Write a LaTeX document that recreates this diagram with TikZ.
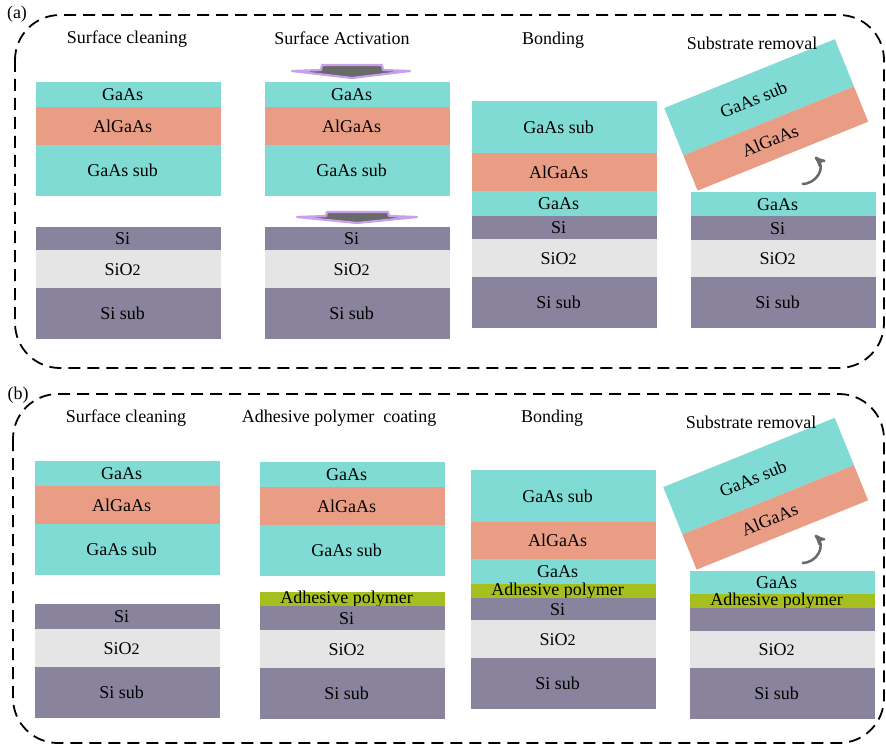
\documentclass[tikz,border=0pt]{standalone}
\usepackage{fontspec}
\setmainfont{Liberation Serif}
\usepackage{xcolor}
\usepackage{tikz}
\usetikzlibrary{
    arrows
}
\definecolor{gaasc}{RGB}{127,219,211}
\definecolor{algaasc}{RGB}{232,157,132}
\definecolor{sic}{RGB}{137,131,157}
\definecolor{sioc}{RGB}{229,229,229}
\definecolor{gluec}{RGB}{164,191,30}
\definecolor{arrowc}{RGB}{105,105,105}
\definecolor{glowc}{RGB}{200,160,235}
\newcommand{\siotwo}{SiO{\fontsize{16}{16}\selectfont 2}}

\begin{document}
\begin{tikzpicture}[x=1pt,y=-1pt,font=\fontsize{18}{20}\selectfont]
    \tikzstyle{layer}=[rectangle, inner sep=0pt, minimum width=185pt, anchor=north west]
    \tikzstyle{gaas}=[layer, fill=gaasc]
    \tikzstyle{algaas}=[layer, fill=algaasc]
    \tikzstyle{si}=[layer, fill=sic]
    \tikzstyle{sio}=[layer, fill=sioc]
    \tikzstyle{glue}=[layer, fill=gluec]
    \tikzstyle{every label}=[xshift=-6pt, inner sep=0pt, font=\fontsize{18}{20}\selectfont\rmfamily]
    \tikzstyle{frame}=[draw=black, line width=1.8pt, dash pattern=on 12pt off 7pt, rounded corners=45pt]
    \tikzstyle{press}=[fill=arrowc, draw=glowc, line width=2.2pt, line join=round]
    \tikzstyle{turn}=[->, >=stealth', draw=arrowc, line width=2.5pt]
    \useasboundingbox (0,0) rectangle (886,746);
    \draw[frame] (15,15) rectangle (884,368);
    \draw[frame] (13,394) rectangle (884,743);
    % (a) surface cleaning
    \node[gaas, minimum height=25pt, label=center:GaAs] (a1g) at (36,82) {};
    \node[algaas, minimum height=38pt, label=center:AlGaAs] (a1a) at (36,107) {};
    \node[gaas, minimum height=51pt, label=center:GaAs sub] (a1s) at (36,145) {};
    \node[si, minimum height=23pt, label=center:Si] (a1i) at (36,227) {};
    \node[sio, minimum height=38pt, label=center:\siotwo] (a1o) at (36,250) {};
    \node[si, minimum height=51pt, label=center:Si sub] (a1b) at (36,288) {};
    % (a) surface activation
    \node[gaas, minimum height=25pt, label=center:GaAs] (a2g) at (265,82) {};
    \node[algaas, minimum height=38pt, label=center:AlGaAs] (a2a) at (265,107) {};
    \node[gaas, minimum height=51pt, label=center:GaAs sub] (a2s) at (265,145) {};
    \node[si, minimum height=23pt, label=center:Si] (a2i) at (265,227) {};
    \node[sio, minimum height=38pt, label=center:\siotwo] (a2o) at (265,250) {};
    \node[si, minimum height=51pt, label=center:Si sub] (a2b) at (265,288) {};
    \draw[press] (322,65) -- (382,65) -- (383,70) -- (410,71) -- (352,78) -- (292,71) -- (321,70) -- cycle;
    \draw[press] (327,212) -- (388,212) -- (389,216) -- (417,217) -- (357,223) -- (297,217) -- (326,216) -- cycle;
    % (a) bonding
    \node[gaas, minimum height=52pt, label=center:GaAs sub] (a3s) at (472,101) {};
    \node[algaas, minimum height=38pt, label=center:AlGaAs] (a3a) at (472,153) {};
    \node[gaas, minimum height=25pt, label=center:GaAs] (a3g) at (472,191) {};
    \node[si, minimum height=23pt, label=center:Si] (a3i) at (472,216) {};
    \node[sio, minimum height=38pt, label=center:\siotwo] (a3o) at (472,239) {};
    \node[si, minimum height=51pt, label=center:Si sub] (a3b) at (472,277) {};
    % (a) substrate removal
    \node[gaas, minimum height=24pt, label=center:GaAs] (a4g) at (691,192) {};
    \node[si, minimum height=24pt, label=center:Si] (a4i) at (691,216) {};
    \node[sio, minimum height=37pt, label=center:\siotwo] (a4o) at (691,240) {};
    \node[si, minimum height=51pt, label=center:Si sub] (a4b) at (691,277) {};
    \begin{scope}[shift={(664,108)}, rotate=22, transform shape]
        \node[gaas, minimum width=184pt, minimum height=51pt, label=center:GaAs sub] (a4s) at (0,0) {};
        \node[algaas, minimum width=184pt, minimum height=38pt, label=center:AlGaAs] (a4a) at (0,51) {};
    \end{scope}
    \coordinate (ra1) at (802,184);
    \coordinate (ra2) at (815,157);
    \draw[turn] (ra1) .. controls (817,184) and (826,167) .. (ra2);
    % (b) surface cleaning
    \node[gaas, minimum height=25pt, label=center:GaAs] (b1g) at (35,461) {};
    \node[algaas, minimum height=38pt, label=center:AlGaAs] (b1a) at (35,486) {};
    \node[gaas, minimum height=51pt, label=center:GaAs sub] (b1s) at (35,524) {};
    \node[si, minimum height=25pt, label=center:Si] (b1i) at (35,604) {};
    \node[sio, minimum height=38pt, label=center:\siotwo] (b1o) at (35,629) {};
    \node[si, minimum height=51pt, label=center:Si sub] (b1b) at (35,667) {};
    % (b) adhesive polymer coating
    \node[gaas, minimum height=25pt, label=center:GaAs] (b2g) at (260,462) {};
    \node[algaas, minimum height=38pt, label=center:AlGaAs] (b2a) at (260,487) {};
    \node[gaas, minimum height=51pt, label=center:GaAs sub] (b2s) at (260,525) {};
    \node[glue, minimum height=14pt, label=center:Adhesive polymer] (b2p) at (260,592) {};
    \node[si, minimum height=24pt, label=center:Si] (b2i) at (260,606) {};
    \node[sio, minimum height=38pt, label=center:\siotwo] (b2o) at (260,630) {};
    \node[si, minimum height=51pt, label=center:Si sub] (b2b) at (260,668) {};
    % (b) bonding
    \node[gaas, minimum height=52pt, label=center:GaAs sub] (b3s) at (471,470) {};
    \node[algaas, minimum height=37pt, label=center:AlGaAs] (b3a) at (471,522) {};
    \node[gaas, minimum height=25pt, label=center:GaAs] (b3g) at (471,559) {};
    \node[glue, minimum height=14pt, label=center:Adhesive polymer] (b3p) at (471,584) {};
    \node[si, minimum height=22pt, label=center:Si] (b3i) at (471,598) {};
    \node[sio, minimum height=38pt, label=center:\siotwo] (b3o) at (471,620) {};
    \node[si, minimum height=51pt, label=center:Si sub] (b3b) at (471,658) {};
    % (b) substrate removal
    \node[gaas, minimum height=23pt, label=center:GaAs] (b4g) at (690,571) {};
    \node[glue, minimum height=14pt, label=center:Adhesive polymer] (b4p) at (690,594) {};
    \node[si, minimum height=23pt] (b4i) at (690,608) {};
    \node[sio, minimum height=37pt, label=center:\siotwo] (b4o) at (690,631) {};
    \node[si, minimum height=51pt, label=center:Si sub] (b4b) at (690,668) {};
    \begin{scope}[shift={(663,487)}, rotate=22, transform shape]
        \node[gaas, minimum width=185pt, minimum height=51pt, label=center:GaAs sub] (b4s) at (0,0) {};
        \node[algaas, minimum width=185pt, minimum height=38pt, label=center:AlGaAs] (b4a) at (0,51) {};
    \end{scope}
    \coordinate (rb1) at (802,563);
    \coordinate (rb2) at (815,535);
    \draw[turn] (rb1) .. controls (817,563) and (826,546) .. (rb2);
    % titles
    \node (pa) at (17,14) {(a)};
    \node (pb) at (18,395) {(b)};
    \node (ta1) at (127,39) {Surface cleaning};
    \node (ta2) at (342,38) {Surface Activation};
    \node (ta3) at (553,40) {Bonding};
    \node (ta4) at (752,43) {Substrate removal};
    \node (tb1) at (126,418) {Surface cleaning};
    \node (tb2) at (339,418) {Adhesive polymer\ \ coating};
    \node (tb3) at (552,418) {Bonding};
    \node (tb4) at (751,422) {Substrate removal};
\end{tikzpicture}
\end{document}
